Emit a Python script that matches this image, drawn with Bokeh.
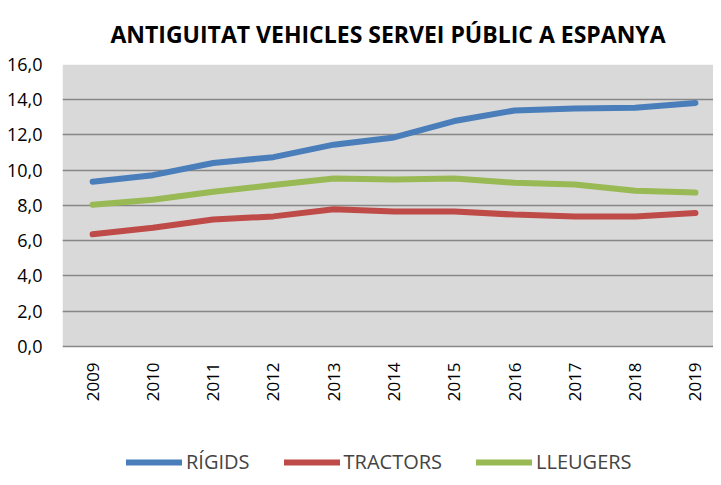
from bokeh.plotting import figure
from bokeh.models import (ColumnDataSource, Range1d, FixedTicker, CustomJSTickFormatter,
                          Legend, LegendItem)
from bokeh.core.properties import value
from bokeh.embed import file_html
from bokeh.resources import INLINE
import math

years = [2009, 2010, 2011, 2012, 2013, 2014, 2015, 2016, 2017, 2018, 2019]
year_labels = [str(y) for y in years]
rigids = [9.35, 9.72, 10.41, 10.74, 11.45, 11.86, 12.79, 13.39, 13.50, 13.54, 13.82]
tractors = [6.36, 6.73, 7.20, 7.38, 7.79, 7.66, 7.66, 7.48, 7.38, 7.38, 7.57]
lleugers = [8.04, 8.32, 8.78, 9.16, 9.53, 9.47, 9.53, 9.29, 9.19, 8.84, 8.73]
y_ticks = [0, 2, 4, 6, 8, 10, 12, 14, 16]
series_names = ["RÍGIDS", "TRACTORS", "LLEUGERS"]
colors = ["#4A7EBB", "#BE4B48", "#98B954"]

FONT = "Open Sans"

X_LO, X_HI = 2008.50, 2019.30
Y_LO, Y_HI = -7.44, 16

p = figure(width=713, height=477, output_backend="svg", toolbar_location=None,
           x_range=Range1d(X_LO, X_HI), y_range=Range1d(Y_LO, Y_HI),
           x_axis_location=None,
           min_border_left=62, min_border_right=0, min_border_top=58,
           min_border_bottom=0)

p.title.text = "ANTIGUITAT VEHICLES SERVEI PÚBLIC A ESPANYA"
p.title.text_font = FONT
p.title.text_font_size = "23px"
p.title.text_font_style = "bold"
p.title.align = "center"
p.title.text_color = "#000000"
p.title.standoff = 30

p.background_fill_color = "white"
p.border_fill_color = "white"
p.outline_line_color = None

# grey plot area (0..16)
p.quad(left=[X_LO], right=[X_HI], bottom=[y_ticks[0]], top=[y_ticks[-1]],
       fill_color="#D9D9D9", line_color=None, level="image")

p.xgrid.grid_line_color = None
p.ygrid.grid_line_color = "#878787"
p.ygrid.grid_line_width = 1.5
p.ygrid.ticker = FixedTicker(ticks=y_ticks)

p.yaxis.ticker = FixedTicker(ticks=y_ticks)
p.yaxis.formatter = CustomJSTickFormatter(code="return tick.toFixed(1).replace('.', ',');")
p.yaxis.axis_line_color = None
p.yaxis.major_tick_line_color = None
p.yaxis.minor_tick_line_color = None
p.yaxis.major_tick_out = 0
p.yaxis.major_tick_in = 0
p.yaxis.major_label_text_font = FONT
p.yaxis.major_label_text_color = "#000000"
p.yaxis.major_label_text_font_size = "18px"
p.yaxis.major_label_standoff = 20

# year labels, rotated, just under the 0 line
lab_src = ColumnDataSource(dict(x=years, y=[y_ticks[0]] * len(years), t=year_labels))
p.text(x="x", y="y", text="t", source=lab_src, angle=math.pi / 2,
       text_align="right", text_baseline="middle", y_offset=16,
       text_font=value(FONT), text_font_size="17px", text_color="#000000")

src = ColumnDataSource(dict(x=years, r=rigids, t=tractors, l=lleugers))
renderers = []
for col, c in zip(["r", "t", "l"], colors):
    rr = p.line("x", col, source=src, line_color=c, line_width=6, line_cap="round",
                line_join="round")
    renderers.append(rr)

legend = Legend(items=[LegendItem(label=n, renderers=[r]) for n, r in zip(series_names, renderers)],
                orientation="horizontal", location=(64, 2),
                glyph_width=56, glyph_height=20, label_standoff=4, spacing=34,
                label_text_font=FONT, label_text_font_size="20px",
                border_line_color=None, background_fill_alpha=0,
                padding=0, margin=0)
p.add_layout(legend, "center")

open("out.html", "w").write(file_html(p, INLINE))
